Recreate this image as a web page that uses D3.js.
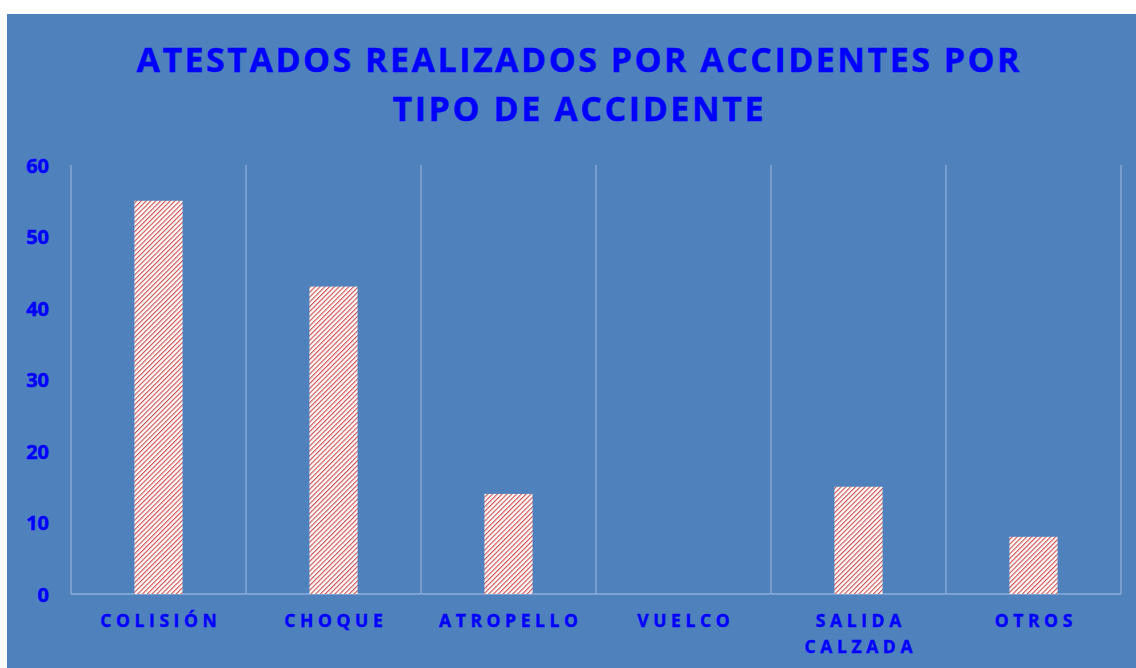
<!DOCTYPE html>
<html>
<head>
<meta charset="utf-8">
<script src="https://cdn.jsdelivr.net/npm/d3@7"></script>
<style>
  html, body { margin: 0; padding: 0; background: #ffffff; }
  svg { display: block; }
</style>
</head>
<body>
<script>
const categories = ["COLISIÓN", "CHOQUE", "ATROPELLO", "VUELCO", "SALIDA CALZADA", "OTROS"];
const categoryLines = [["COLISIÓN"], ["CHOQUE"], ["ATROPELLO"], ["VUELCO"], ["SALIDA", "CALZADA"], ["OTROS"]];
const values = [55, 43, 14, 0, 15, 8];
const yTicks = [0, 10, 20, 30, 40, 50, 60];
const titleLines = ["ATESTADOS REALIZADOS POR ACCIDENTES POR", "TIPO DE ACCIDENTE"];

const W = 1136, H = 668;
const svg = d3.select("body").append("svg").attr("width", W).attr("height", H);

const defs = svg.append("defs");
const pat = defs.append("pattern")
  .attr("id", "hatch")
  .attr("patternUnits", "userSpaceOnUse")
  .attr("width", 3.4).attr("height", 3.4)
  .attr("patternTransform", "rotate(45)");
pat.append("rect").attr("width", 3.4).attr("height", 3.4).attr("fill", "#ffffff");
pat.append("rect").attr("width", 1.15).attr("height", 3.4).attr("fill", "#cf5050");

// panel
svg.append("rect").attr("x", 7).attr("y", 14).attr("width", W - 7).attr("height", H - 14).attr("fill", "#4f81bd");

const margin = { left: 71, right: 1121, top: 165, bottom: 594 };
const x = d3.scaleBand().domain(categories).range([margin.left, margin.right]).paddingInner(0).paddingOuter(0);
const y = d3.scaleLinear().domain([0, 60]).range([margin.bottom, margin.top]);

const gridColor = "#8eaedb";

// vertical category dividers
const bounds = categories.map(c => x(c)).concat([margin.right]);
svg.append("g").selectAll("line").data(bounds).join("line")
  .attr("x1", d => d).attr("x2", d => d)
  .attr("y1", y(60)).attr("y2", y(0))
  .attr("stroke", gridColor).attr("stroke-width", 1.3);

// baseline
svg.append("line").attr("x1", margin.left).attr("x2", margin.right)
  .attr("y1", y(0)).attr("y2", y(0)).attr("stroke", gridColor).attr("stroke-width", 1.3);

// bars
const barW = x.bandwidth() * 0.275;
svg.append("g").selectAll("rect").data(values).join("rect")
  .attr("x", (d, i) => x(categories[i]) + x.bandwidth() / 2 - barW / 2)
  .attr("width", barW)
  .attr("y", d => y(d))
  .attr("height", d => y(0) - y(d))
  .attr("fill", "url(#hatch)");

// y axis labels
const yAxis = d3.axisLeft(y).tickValues(yTicks).tickSize(0).tickPadding(0).tickFormat(d3.format("d"));
const gy = svg.append("g").attr("transform", "translate(49,0)").call(yAxis);
gy.select(".domain").remove();
gy.selectAll("text")
  .attr("fill", "#0000ff")
  .attr("stroke", "#0000ff")
  .attr("stroke-width", 0.5)
  .attr("font-family", "'Open Sans', sans-serif")
  .attr("font-weight", "bold")
  .attr("font-size", 20)
  .attr("dy", "0.36em");

// x labels
const gx = svg.append("g");
categories.forEach((c, i) => {
  const cx = x(c) + x.bandwidth() / 2;
  const t = gx.append("text")
    .attr("text-anchor", "middle")
    .attr("fill", "#0000ff")
    .attr("stroke", "#0000ff")
    .attr("stroke-width", 0.4)
    .attr("font-family", "'Open Sans', sans-serif")
    .attr("font-weight", "bold")
    .attr("font-size", 17.5)
    .attr("letter-spacing", "4.6px");
  categoryLines[i].forEach((line, j) => {
    t.append("tspan").attr("x", cx + 2.3).attr("y", 627 + j * 26).text(line);
  });
});

// title
const titleLens = [883, 371];
titleLines.forEach((line, i) => {
  svg.append("text")
    .attr("x", 578).attr("y", 72 + i * 49)
    .attr("text-anchor", "middle")
    .attr("fill", "#0000ff")
    .attr("stroke", "#0000ff")
    .attr("stroke-width", 0.4)
    .attr("font-family", "'Open Sans', sans-serif")
    .attr("font-weight", "bold")
    .attr("font-size", 34)
    .attr("textLength", titleLens[i])
    .attr("lengthAdjust", "spacing")
    .text(line);
});
</script>
</body>
</html>
